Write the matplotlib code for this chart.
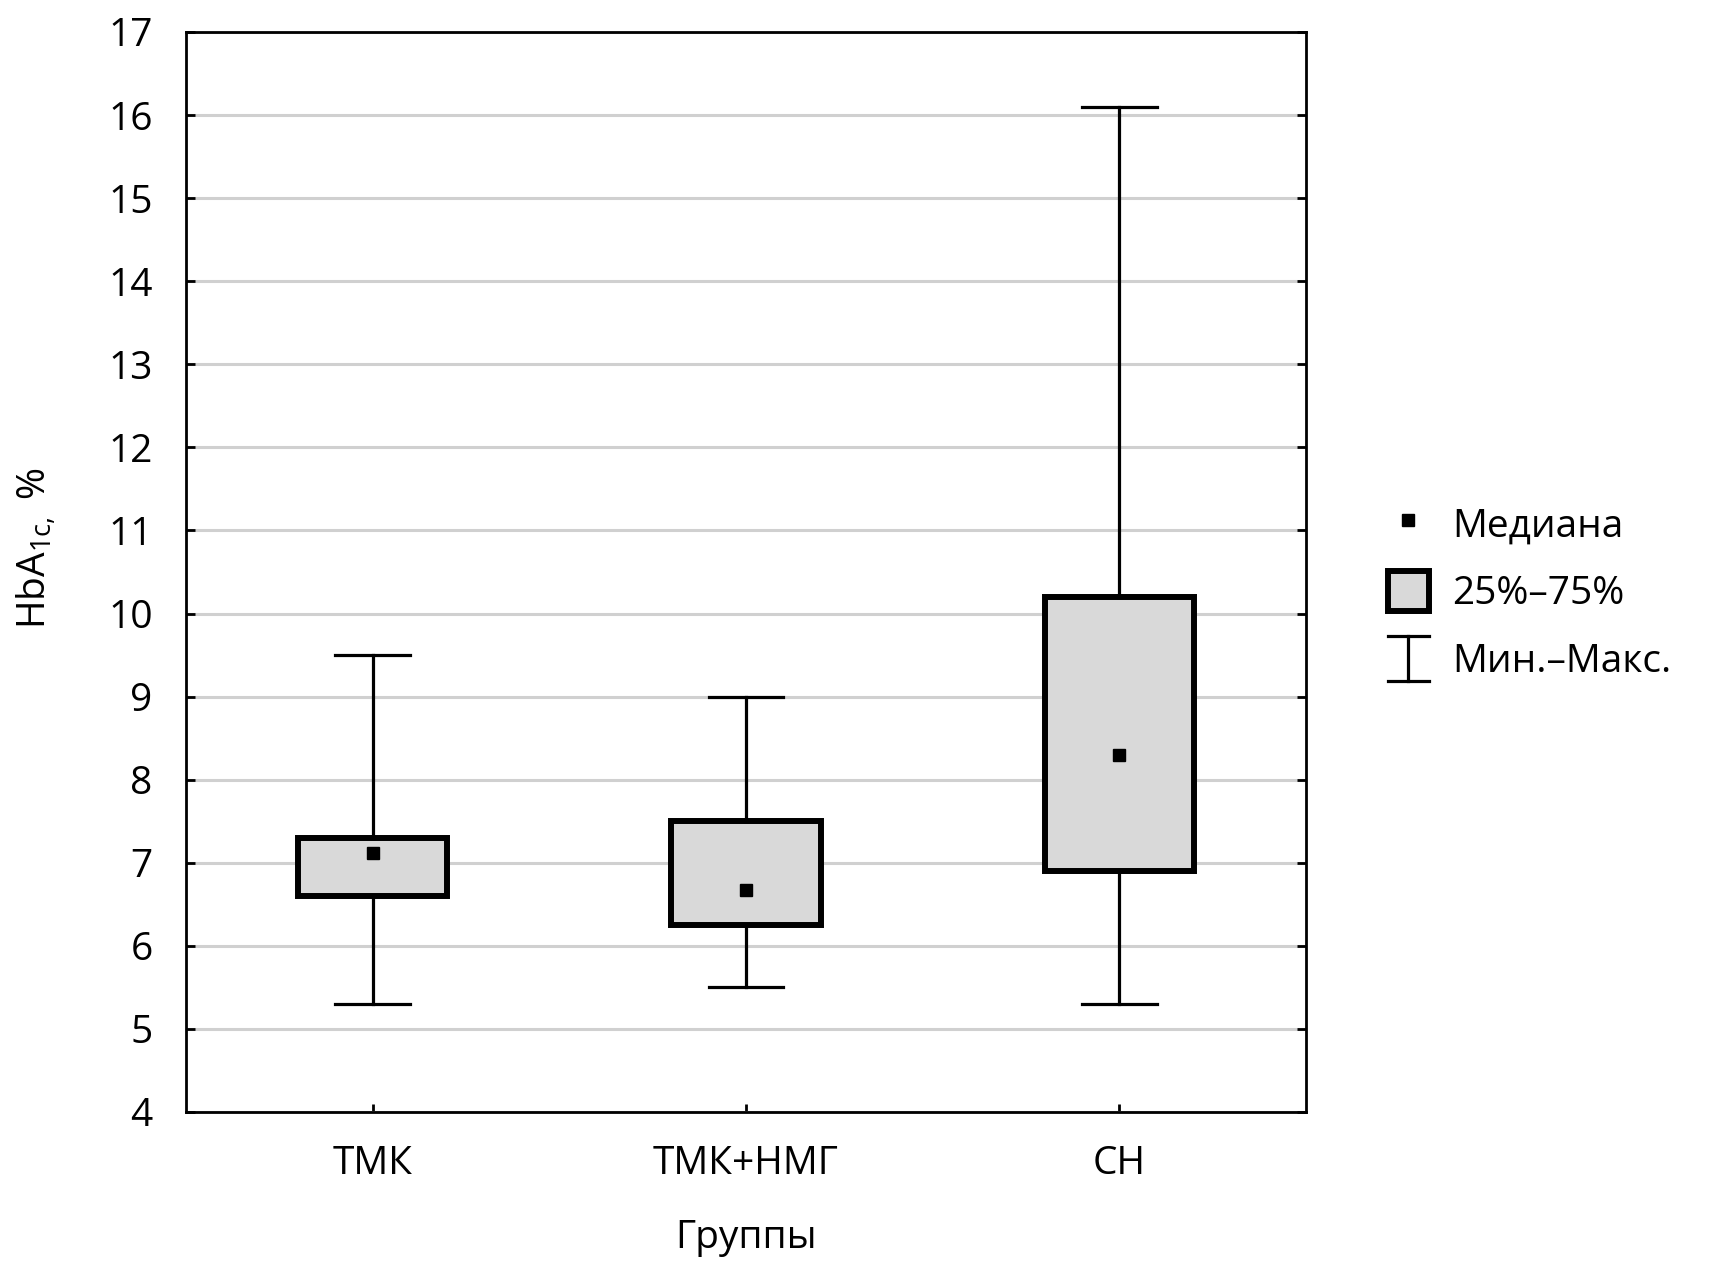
import matplotlib
matplotlib.use('Agg')
import matplotlib.pyplot as plt
from matplotlib.lines import Line2D
from matplotlib.patches import Patch
from matplotlib.legend_handler import HandlerBase

# ---- data ----
groups = ['ТМК', 'ТМК+НМГ', 'СН']
mins = [5.3, 5.5, 5.3]
q1s = [6.6, 6.25, 6.9]
medians = [7.12, 6.67, 8.3]
q3s = [7.3, 7.5, 10.2]
maxs = [9.5, 9.0, 16.1]
y_ticks = list(range(4, 18))
legend_labels = ['Медиана', '25%–75%', 'Мин.–Макс.']
x_label = 'Группы'
y_label = 'HbA$_{\\mathregular{1c,}}$ %'

FONT = 'Open Sans'
plt.rcParams['font.family'] = [FONT, 'DejaVu Sans']
plt.rcParams['mathtext.fontset'] = 'custom'
plt.rcParams['mathtext.rm'] = FONT
plt.rcParams['mathtext.it'] = FONT
plt.rcParams['mathtext.bf'] = FONT

W, H = 1731, 1265
fig = plt.figure(figsize=(W / 100, H / 100), dpi=100)
ax = fig.add_axes([186 / W, 153 / H, 1120 / W, 1080 / H])

BOX_FILL = '#d9d9d9'
stats = [dict(whislo=mn, q1=a, med=m, q3=b, whishi=mx, fliers=[], label=g)
         for g, mn, a, m, b, mx in zip(groups, mins, q1s, medians, q3s, maxs)]
ax.bxp(stats, positions=range(len(groups)), widths=0.4, capwidths=0.2,
       patch_artist=True, showfliers=False,
       boxprops=dict(facecolor=BOX_FILL, edgecolor='black', linewidth=4.3,
                     joinstyle='miter'),
       whiskerprops=dict(color='black', linewidth=2.3),
       capprops=dict(color='black', linewidth=2.3),
       medianprops=dict(linewidth=0, alpha=0))
ax.plot(range(len(groups)), medians, ls='none', marker='s', ms=8.5,
        color='black', zorder=5)

ax.set_xlim(-0.5, 2.5)
ax.set_ylim(4, 17)
ax.set_yticks(y_ticks)
ax.set_xticks(range(len(groups)))
ax.set_xticklabels(groups)
ax.yaxis.grid(True, color='#d0d0d0', linewidth=2.2)
ax.xaxis.grid(False)
ax.set_axisbelow(True)
for s in ax.spines.values():
    s.set_linewidth(2)
ax.tick_params(axis='y', direction='in', left=True, right=True, length=6.5,
               width=2, labelsize=28, pad=24)
ax.tick_params(axis='x', direction='in', bottom=True, top=False, length=6,
               width=2, labelsize=28, pad=24)

ax.set_xlabel(x_label, fontsize=28, labelpad=26)
ax.set_ylabel(y_label, fontsize=28)
ax.yaxis.set_label_coords(-0.114, 0.522)


class IHandler(HandlerBase):
    def create_artists(self, legend, orig_handle, xdescent, ydescent,
                       width, height, fontsize, trans):
        x0 = -xdescent
        x1 = x0 + width
        xm = (x0 + x1) / 2
        y0 = -ydescent - 0.06 * height
        y1 = -ydescent + 1.06 * height
        kw = dict(color='black', linewidth=2.3, transform=trans)
        return [Line2D([x0, x1], [y1, y1], **kw),
                Line2D([x0, x1], [y0, y0], **kw),
                Line2D([xm, xm], [y0, y1], **kw)]


h_med = Line2D([], [], ls='none', marker='s', ms=8.5, color='black')
h_box = Patch(facecolor=BOX_FILL, edgecolor='black', linewidth=4.3,
              joinstyle='miter')
h_rng = object()
leg = fig.legend([h_med, h_box, h_rng], legend_labels,
                 handler_map={object: IHandler()},
                 loc='center left', bbox_to_anchor=(1388 / W, 1 - 592 / H),
                 frameon=False, fontsize=28, borderpad=0, borderaxespad=0,
                 handlelength=1.05, handleheight=1.2, handletextpad=0.6,
                 labelspacing=0.66)

fig.savefig('out.png', dpi=100)
